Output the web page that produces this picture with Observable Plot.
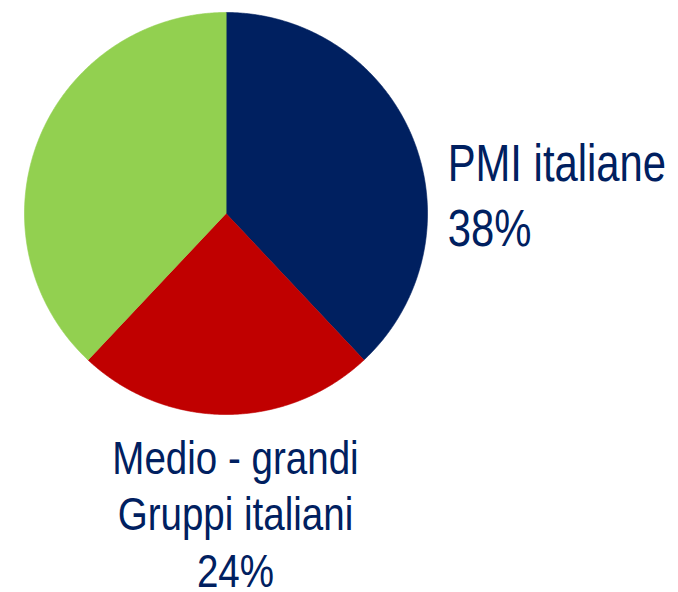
<!DOCTYPE html>
<html><head><meta charset="utf-8">
<script src="https://cdn.jsdelivr.net/npm/d3@7"></script>
<script src="https://cdn.jsdelivr.net/npm/@observablehq/plot@0.6"></script>
<style>html,body{margin:0;padding:0;background:#fff} svg{display:block}</style>
</head><body><div id="chart"></div>
<script>
// ---- data ----
const categories = ["PMI italiane", "Medio - grandi\nGruppi italiani", "Altro"];
const values = [38, 24, 38];
const colors = ["#002060", "#C00000", "#92D050"];
const showLabel = [true, true, false];

// ---- geometry from data (pie angles, clockwise from 12 o'clock) ----
const rows = categories.map((c, i) => ({category: c, value: values[i]}));
const arcs = d3.pie().sort(null).value(d => d.value)(rows);
const pts = [];
for (const a of arcs) {
  const n = Math.max(2, Math.ceil((a.endAngle - a.startAngle) / 0.005));
  pts.push({key: a.data.category, x: 0, y: 0});
  for (let k = 0; k <= n; k++) {
    const t = a.startAngle + (a.endAngle - a.startAngle) * k / n;
    pts.push({key: a.data.category, x: Math.sin(t), y: Math.cos(t)});
  }
}

// labels
const labels = arcs.filter((a, i) => showLabel[i]).map(a => ({
  key: a.data.category,
  text: a.data.category + "\n" + a.data.value + "%"
}));
// label placement (pie units)
const place = {
  "PMI italiane": {x: 1.10, y: 0.388, anchor: "start", size: 51, lh: 1.27},
  "Medio - grandi\nGruppi italiani": {x: 0.047, y: -1.097, anchor: "middle", size: 47, lh: 1.2}
};

// font detection: narrow font available?
const cv = document.createElement("canvas").getContext("2d");
cv.font = "40px 'Liberation Sans Narrow', monospace";
const wN = cv.measureText("Medio - grandi").width;
cv.font = "40px monospace";
const wM = cv.measureText("Medio - grandi").width;
const narrowOK = Math.abs(wN - wM) > 1;
const fam = narrowOK ? "'Liberation Sans Narrow', 'Arial Narrow', sans-serif" : "'Liberation Sans', Arial, sans-serif";

const chart = Plot.plot({
  width: 678, height: 592,
  marginLeft: 24, marginRight: 251, marginTop: 12, marginBottom: 178,
  x: {domain: [-1, 1], axis: null},
  y: {domain: [-1, 1], axis: null},
  color: {domain: categories, range: colors},
  style: {background: "#fff"},
  marks: [
    Plot.line(pts, {x: "x", y: "y", z: "key", fill: "key", stroke: "key", strokeWidth: 0.6, curve: "linear-closed"}),
    ...labels.map(l => Plot.text([l], {
      x: () => place[l.key].x, y: () => place[l.key].y, text: "text",
      textAnchor: place[l.key].anchor, lineAnchor: "top",
      fontSize: place[l.key].size, lineHeight: place[l.key].lh,
      fill: "#002060", fontFamily: fam, className: "plabel"
    }))
  ]
});
document.getElementById("chart").append(chart);
if (!narrowOK) {
  d3.select(chart).selectAll(".plabel text").each(function() {
    const t = this.getAttribute("transform") || "";
    this.setAttribute("transform", t + " scale(0.82,1)");
  });
}
</script>
</body></html>
